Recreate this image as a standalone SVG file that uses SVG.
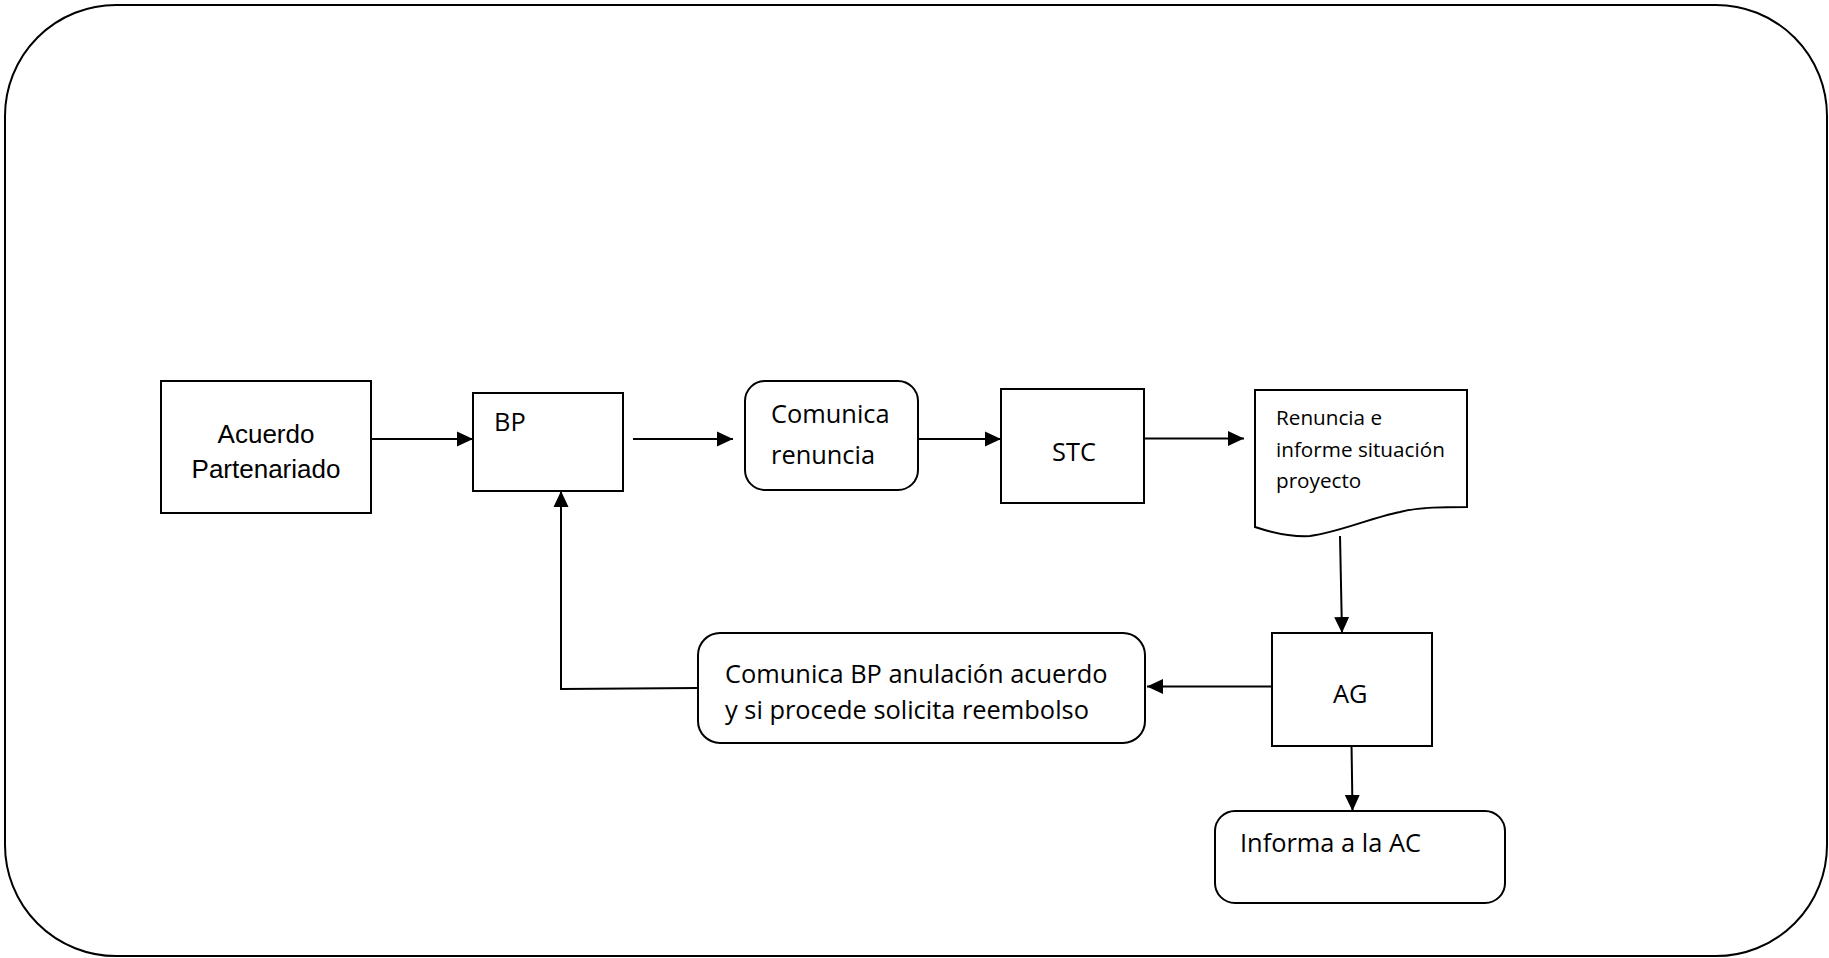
<svg xmlns="http://www.w3.org/2000/svg" width="1829" height="958" viewBox="0 0 1829 958">
  <style>
    .box { fill: #ffffff; stroke: #000000; stroke-width: 2; }
    .frame { fill: #ffffff; stroke: #000000; stroke-width: 2; }
    .conn { fill: none; stroke: #000000; stroke-width: 2; }
    .arial { font-family: "Liberation Sans", Arial, sans-serif; font-size: 26px; fill: #000000; }
    .cal { font-family: "Open Sans", "Noto Sans", sans-serif; font-size: 25.4px; fill: #000000; }
    .small { font-family: "Open Sans", "Noto Sans", sans-serif; font-size: 20.7px; fill: #000000; }
  </style>
  <defs>
    <marker id="arrow" markerUnits="userSpaceOnUse" markerWidth="16" markerHeight="16" viewBox="0 0 16 16" refX="16" refY="8" orient="auto">
      <path d="M0,0.5 L16,8 L0,15.5 Z" fill="#000000"/>
    </marker>
  </defs>

  <!-- outer rounded frame -->
  <rect class="frame" x="5" y="5" width="1822" height="951" rx="111" ry="111"/>

  <!-- connectors -->
  <g id="connectors">
    <line class="conn" x1="371" y1="439" x2="473" y2="439" marker-end="url(#arrow)"/>
    <line class="conn" x1="633" y1="439" x2="733" y2="439" marker-end="url(#arrow)"/>
    <line class="conn" x1="918" y1="439" x2="1001" y2="439" marker-end="url(#arrow)"/>
    <line class="conn" x1="1145" y1="438.5" x2="1244" y2="438.5" marker-end="url(#arrow)"/>
    <line class="conn" x1="1340" y1="536" x2="1342" y2="633" marker-end="url(#arrow)"/>
    <line class="conn" x1="1272" y1="686.5" x2="1147" y2="686.5" marker-end="url(#arrow)"/>
    <line class="conn" x1="1351.5" y1="743" x2="1352.5" y2="811" marker-end="url(#arrow)"/>
    <polyline class="conn" points="699,688 561,689 561,491" marker-end="url(#arrow)"/>
  </g>

  <!-- nodes -->
  <g id="acuerdo">
    <rect class="box" x="161" y="381" width="210" height="132"/>
    <text class="arial" x="266" y="443" text-anchor="middle">Acuerdo</text>
    <text class="arial" x="266" y="478" text-anchor="middle">Partenariado</text>
  </g>

  <g id="bp">
    <rect class="box" x="473" y="393" width="150" height="98"/>
    <text class="cal" x="494" y="431">BP</text>
  </g>

  <g id="comunica-renuncia">
    <rect class="box" x="745" y="381" width="173" height="109" rx="20" ry="20"/>
    <text class="cal" x="771" y="423">Comunica</text>
    <text class="cal" x="771" y="464">renuncia</text>
  </g>

  <g id="stc">
    <rect class="box" x="1001" y="389" width="143" height="114"/>
    <text class="cal" x="1052" y="461">STC</text>
  </g>

  <g id="documento">
    <path class="box" d="M1255,390 L1467,390 L1467,507 C1445,507 1420,507 1400,512 C1370,518 1340,532 1310,536 C1290,537 1270,532 1255,527 Z"/>
    <text class="small" x="1276" y="425">Renuncia e</text>
    <text class="small" x="1276" y="457">informe situación</text>
    <text class="small" x="1276" y="488">proyecto</text>
  </g>

  <g id="ag">
    <rect class="box" x="1272" y="633" width="160" height="113"/>
    <text class="cal" x="1333" y="703">AG</text>
  </g>

  <g id="comunica-bp">
    <rect class="box" x="698" y="633" width="447" height="110" rx="22" ry="22"/>
    <text class="cal" x="725" y="683">Comunica BP anulación acuerdo</text>
    <text class="cal" x="725" y="719">y si procede solicita reembolso</text>
  </g>

  <g id="informa-ac">
    <rect class="box" x="1215" y="811" width="290" height="92" rx="20" ry="20"/>
    <text class="cal" x="1240" y="852">Informa a la AC</text>
  </g>
</svg>
